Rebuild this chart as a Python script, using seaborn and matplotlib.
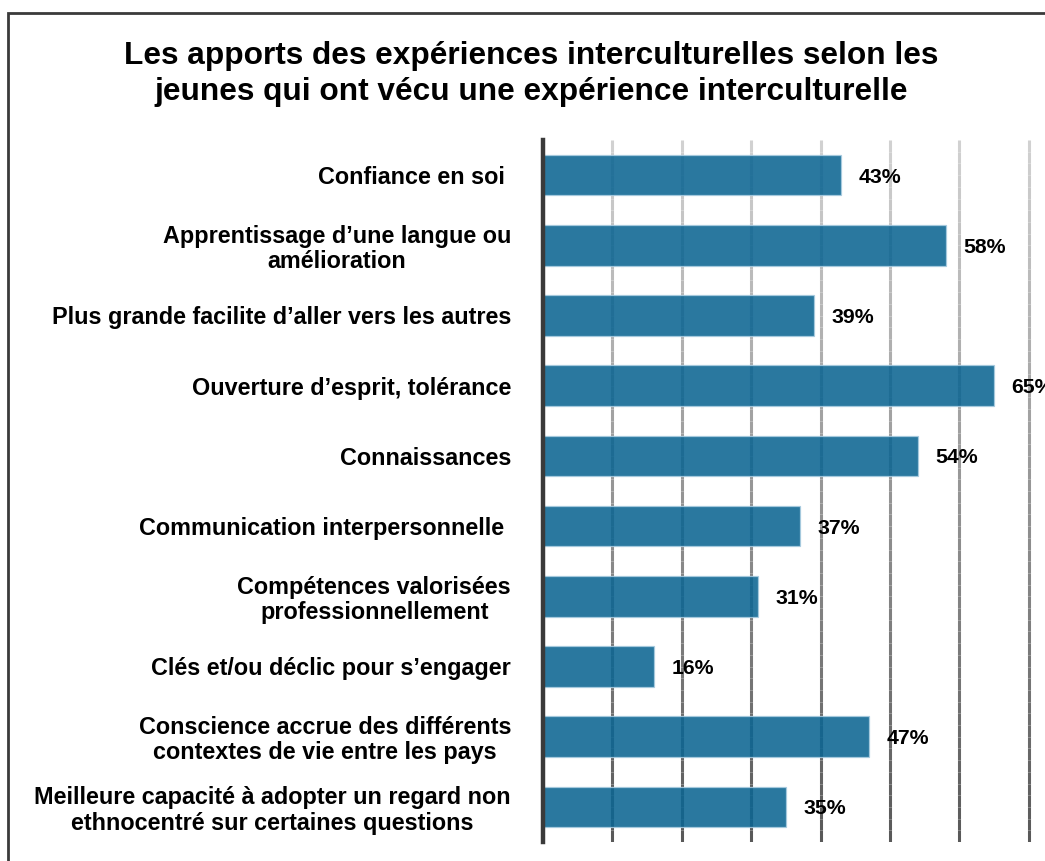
import numpy as np
import pandas as pd
import matplotlib
matplotlib.use("Agg")
import matplotlib.pyplot as plt
import matplotlib.transforms as mtransforms
from matplotlib.collections import LineCollection
from matplotlib.patches import Rectangle
import seaborn as sns

title = "Les apports des expériences interculturelles selon les\njeunes qui ont vécu une expérience interculturelle"
categories = [
    "Confiance en soi ",
    "Apprentissage d’une langue ou\namélioration",
    "Plus grande facilite d’aller vers les autres",
    "Ouverture d’esprit, tolérance",
    "Connaissances",
    "Communication interpersonnelle ",
    "Compétences valorisées\nprofessionnellement",
    "Clés et/ou déclic pour s’engager",
    "Conscience accrue des différents\ncontextes de vie entre les pays",
    "Meilleure capacité à adopter un regard non\nethnocentré sur certaines questions",
]
values = [43, 58, 39, 65, 54, 37, 31, 16, 47, 35]
grid_ticks = [10, 20, 30, 40, 50, 60, 70]

sns.set_style("white")
plt.rcParams["font.family"] = ["Liberation Sans", "DejaVu Sans"]
plt.rcParams["text.color"] = "black"

W, H = 1045, 861
fig = plt.figure(figsize=(W / 100, H / 100), dpi=100)
px_per_unit = 6.94
xmax = 75
ax = fig.add_axes([543 / W, (H - 842) / H, xmax * px_per_unit / W, 702 / H])

df = pd.DataFrame({"cat": categories, "val": values})

# gradient gridlines (behind bars)
trans = mtransforms.blended_transform_factory(ax.transData, ax.transAxes)
nseg = 60
ys = np.linspace(1, 0, nseg + 1)
segs, cols = [], []
for gx in grid_ticks:
    for k in range(nseg):
        segs.append([(gx, ys[k]), (gx, ys[k + 1])])
        t = k / (nseg - 1)
        g = 0.82 - 0.47 * t
        cols.append((g, g, g, 1.0))
lc = LineCollection(segs, colors=cols, linewidths=2.2, transform=trans, zorder=0)
ax.add_collection(lc)

sns.barplot(data=df, y="cat", x="val", order=categories, orient="h",
            color="#0C6592", saturation=1, alpha=0.88, width=0.58,
            edgecolor="#a8cbe0", linewidth=0.9, ax=ax, zorder=2)

ax.set_xlim(0, xmax)
ax.set_ylim(len(categories) - 0.5, -0.5)
ax.set_xticks([])
ax.set_xlabel("")
ax.set_ylabel("")
for s in ["top", "right", "bottom"]:
    ax.spines[s].set_visible(False)
ax.spines["left"].set_color("#3a3a3a")
ax.spines["left"].set_linewidth(3.2)
ax.spines["left"].set_zorder(3)
ax.tick_params(axis="y", length=0, pad=23)
for lab in ax.get_yticklabels():
    lab.set_fontsize(16.8)
    lab.set_fontweight("bold")
    lab.set_multialignment("center")
    lab.set_linespacing(1.12)
    lab.set_color("black")

for i, v in enumerate(values):
    ax.annotate(f"{v}%", (v, i), xytext=(12.5, -1.5), textcoords="offset points",
                ha="left", va="center", fontsize=15.3, fontweight="bold",
                color="black", annotation_clip=False, zorder=4)

fig.text(0.508, 1 - 74 / H, title, ha="center", va="center", fontsize=22.8,
         fontweight="bold", linespacing=1.22, color="black")

fig.add_artist(Rectangle((8 / W, -0.1), 1.2, (H - 13) / H + 0.1,
                         transform=fig.transFigure, fill=False,
                         edgecolor="#3a3a3a", linewidth=2))

fig.savefig("out.png", dpi=100, facecolor="white")
